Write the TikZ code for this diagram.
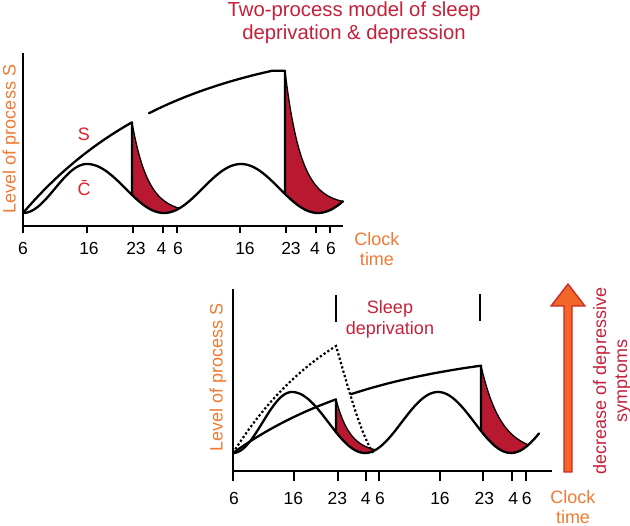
\documentclass[tikz,border=0pt]{standalone}
\usepackage{fontspec}
\setmainfont{Liberation Sans}
\definecolor{titlered}{RGB}{196,32,58}
\definecolor{labelred}{RGB}{228,30,42}
\definecolor{fillred}{RGB}{185,25,48}
\definecolor{axorange}{RGB}{238,122,52}
\definecolor{arrowfill}{RGB}{242,102,40}
\definecolor{arrowline}{RGB}{200,40,42}
\begin{document}
\begin{tikzpicture}[x=1pt,y=-1pt,
  curve/.style={line width=2.3pt,line join=round,line cap=round},
  axisline/.style={line width=2.4pt},
  tickline/.style={line width=2.2pt},
  ticklab/.style={font=\fontsize{17.5}{20}\selectfont,inner sep=0pt},
  axlab/.style={font=\fontsize{18}{20}\selectfont,text=axorange,inner sep=0pt,align=center},
  redtext/.style={font=\fontsize{18}{21}\selectfont,text=titlered,inner sep=0pt,align=center},
  declare function={
    ctA(\x)=188.5-24.5*cos(2.8125*(\x-87));
    ctB(\x)=188.5-24.5*cos(2.337662*(\x-87));
    st(\x)=213-175.6*(1-exp(-(\x-23)/150));
    dtA(\x)=213-(213-st(132))*exp(-(\x-132)/16);
    dtB(\x)=205-(205-st(272))*exp(-(\x-285)/16);
    cbA(\x)=422.5-30.5*cos(3.050847*(\x-292));
    cbB(\x)=422.5-30.5*cos(2.465753*(\x-292));
    sb(\x)=453-108*(1-exp(-(\x-233)/150));
    dbA(\x)=453-(453-sb(336))*exp(-(\x-336)/14);
    dbB(\x)=453-(453-sb(481))*exp(-(\x-481)/20);
    pd(\x)=453-176*(1-exp(-(\x-233)/110));
  }]
\useasboundingbox (0,0) rectangle (630,526);

% ---------- title ----------
\node[redtext,font=\fontsize{20.3}{22.5}\selectfont] (title) at (354,23) {Two-process model of sleep\\deprivation \& depression};

% ================= TOP PLOT =================
% red fills
\fill[fillred] plot[domain=132:179,samples=50] (\x,{dtA(\x)})
  -- plot[variable=\t,domain=0:1,samples=40] ({179-47*\t},{ctB(179-47*\t)}) -- cycle;
\fill[fillred] (285,{st(272)}) -- plot[domain=285:343,samples=60] (\x,{dtB(\x)})
  -- plot[variable=\t,domain=0:1,samples=40] ({343-58*\t},{ctB(343-58*\t)}) -- cycle;

% C curve
\draw[curve] plot[domain=23:87,samples=40] (\x,{ctA(\x)})
  -- plot[domain=87:343,samples=120] (\x,{ctB(\x)});
% S rising
\draw[curve] plot[domain=23:132,samples=50] (\x,{st(\x)}) -- (132,{ctB(132)});
\draw[curve] plot[domain=149:272,samples=50] (\x,{st(\x)}) -- (285,{st(272)}) -- (285,{ctB(285)});
% decays
\draw[line width=1.3pt] plot[domain=132:179,samples=50] (\x,{dtA(\x)});
\draw[line width=1.3pt] plot[domain=285:343,samples=60] (\x,{dtB(\x)});

% axes
\draw[axisline] (23,53) -- (23,233);
\draw[axisline] (21.8,226) -- (343,226);
\foreach \p in {87.3,133.3,162.7,176.7,240,285.7,315.7,330}
  \draw[tickline] (\p,226) -- (\p,233);

\node[ticklab] (ta1) at (23,248.5) {6};
\node[ticklab] (ta2) at (89,248.5) {16};
\node[ticklab] (ta3) at (136,248.5) {23};
\node[ticklab] (ta4) at (161.5,248.5) {4};
\node[ticklab] (ta5) at (178,248.5) {6};
\node[ticklab] (ta6) at (245,248.5) {16};
\node[ticklab] (ta7) at (291,248.5) {23};
\node[ticklab] (ta8) at (315,248.5) {4};
\node[ticklab] (ta9) at (331,248.5) {6};

\node[axlab] (clockA) at (377,249) {Clock\\time};
\node[axlab,rotate=90] (levA) at (11,139) {Level of process S};

\node[font=\fontsize{18}{21}\selectfont,text=labelred,inner sep=0pt] (slab) at (84,134) {S};
\node[font=\fontsize{18}{21}\selectfont,text=labelred,inner sep=0pt] (clab) at (84,188) {\={C}};

% ================= BOTTOM PLOT =================
\fill[fillred] plot[domain=336:375,samples=50] (\x,{dbA(\x)})
  -- plot[variable=\t,domain=0:1,samples=40] ({375-39*\t},{cbB(375-39*\t)}) -- cycle;
\fill[fillred] plot[domain=481:528,samples=50] (\x,{dbB(\x)})
  -- plot[variable=\t,domain=0:1,samples=40] ({528-47*\t},{cbB(528-47*\t)}) -- cycle;

% dotted curve
\draw[line width=2.2pt,dash pattern=on 2.2pt off 2.3pt]
  plot[domain=233:336,samples=50] (\x,{pd(\x)})
  .. controls (347,383) and (359,430) .. (373,453);

% C curve
\draw[curve] plot[domain=233:292,samples=40] (\x,{cbA(\x)})
  -- plot[domain=292:539,samples=120] (\x,{cbB(\x)});
% S
\draw[curve] plot[domain=233:336,samples=50] (\x,{sb(\x)}) -- (336,{cbB(336)});
\draw[curve] plot[domain=351:481,samples=50] (\x,{sb(\x)}) -- (481,{cbB(481)});
\draw[line width=1.3pt] plot[domain=336:375,samples=50] (\x,{dbA(\x)});
\draw[line width=1.3pt] plot[domain=481:528,samples=50] (\x,{dbB(\x)});

% sleep deprivation markers
\draw[line width=2pt] (336,295) -- (336,322);
\draw[line width=2pt] (480,294) -- (480,321);
\node[redtext] (sleepdep) at (390,319) {Sleep\\deprivation};

% axes
\draw[axisline] (233,289) -- (233,481);
\draw[axisline] (231.8,471) -- (552,471);
\foreach \p in {294.3,337.7,366,379.3,440,483.3,512.3,526}
  \draw[tickline] (\p,471) -- (\p,481);

\node[ticklab] (tb1) at (234,498.5) {6};
\node[ticklab] (tb2) at (293.3,498.5) {16};
\node[ticklab] (tb3) at (337.3,498.5) {23};
\node[ticklab] (tb4) at (365.7,498.5) {4};
\node[ticklab] (tb5) at (380,498.5) {6};
\node[ticklab] (tb6) at (440,498.5) {16};
\node[ticklab] (tb7) at (484.3,498.5) {23};
\node[ticklab] (tb8) at (513.3,498.5) {4};
\node[ticklab] (tb9) at (526.7,498.5) {6};

\node[axlab] (clockB) at (573,507) {Clock\\time};
\node[axlab,rotate=90] (levB) at (218,377.5) {Level of process S};

% big arrow
\draw[line width=1.3pt,draw=arrowline,fill=arrowfill,line join=miter]
  (564,472) -- (564,306) -- (551,306) -- (568,284) -- (585,306) -- (572,306) -- (572,472) -- cycle;
\node[redtext,rotate=90] (decr) at (612,381) {decrease of depressive\\symptoms};
\end{tikzpicture}
\end{document}
